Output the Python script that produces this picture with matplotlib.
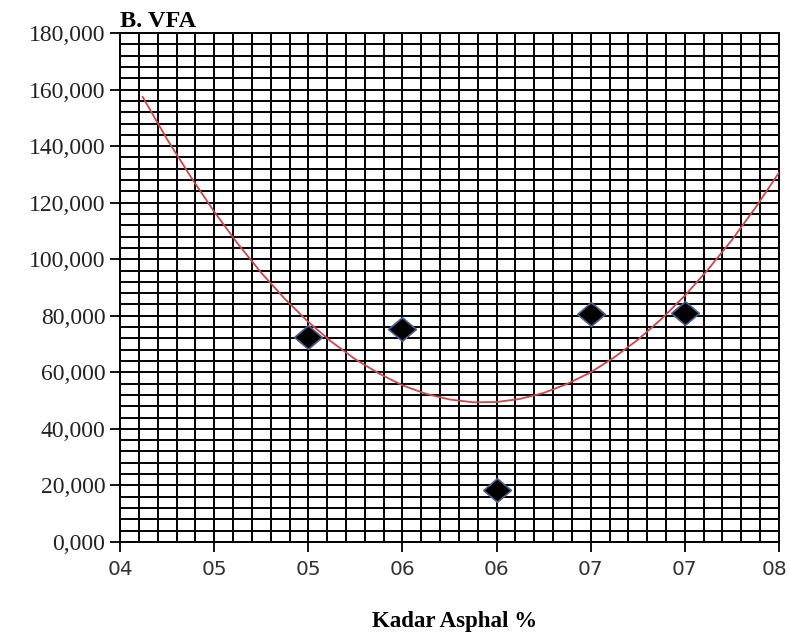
import matplotlib
matplotlib.use("Agg")
import matplotlib.pyplot as plt
from matplotlib.ticker import MultipleLocator, FuncFormatter
import matplotlib.transforms as mtransforms
import numpy as np

# Data
x_points = [5.0, 5.5, 6.0, 6.5, 7.0]
vfa_points = [72.5, 75.3, 18.4, 80.6, 81.0]

# Trendline
trend_x = [4.12, 4.25, 4.375, 4.5, 4.625, 4.75, 4.875, 5.0, 5.125, 5.25, 5.375, 5.5,
           5.625, 5.75, 5.875, 6.0, 6.125, 6.25, 6.375, 6.5, 6.625, 6.75, 6.875,
           7.0, 7.125, 7.25, 7.375, 7.5]
trend_y = [157.4, 142.4, 129.2, 116.8, 105.5, 95.2, 86.0, 77.8, 70.7, 64.6, 59.6, 55.4,
           52.4, 50.4, 49.4, 49.5, 50.6, 52.7, 55.9, 60.0, 65.3, 71.5, 78.8,
           87.1, 96.5, 106.8, 118.2, 130.6]

x_tick_labels = ["04", "05", "05", "06", "06", "07", "07", "08"]
title = "B. VFA"
xlabel = "Kadar Asphal %"

fig = plt.figure(figsize=(7.9, 6.35), dpi=100)
ax = fig.add_axes([0.152, 0.1465, 0.834, 0.8015])

ax.set_xlim(4.0, 7.5)
ax.set_ylim(0, 180)

ax.xaxis.set_major_locator(MultipleLocator(0.5))
ax.xaxis.set_minor_locator(MultipleLocator(0.1))
ax.yaxis.set_major_locator(MultipleLocator(20))
ax.yaxis.set_minor_locator(MultipleLocator(4))

ax.grid(which="both", color="black", linewidth=1.4)
ax.set_axisbelow(True)

ticks = np.arange(4.0, 7.51, 0.5)
ax.set_xticks(ticks)
ax.set_xticklabels(x_tick_labels, fontsize=14.5, family="DejaVu Sans", color="#333333")
ax.yaxis.set_major_formatter(FuncFormatter(lambda v, p: f"{v:.3f}".replace(".", ",")))
ax.tick_params(axis="y", labelsize=17, labelfontfamily="Liberation Serif", colors="#222222")
ax.tick_params(which="major", direction="out", length=7, width=1.3, color="black")
ax.tick_params(axis="x", pad=6)
ax.tick_params(which="minor", length=0)

# nudge last x label inward so it stays inside the figure
last = ax.get_xticklabels()[-1]
last.set_transform(last.get_transform() +
                   mtransforms.ScaledTranslation(-4 / 100, 0, fig.dpi_scale_trans))

for s in ax.spines.values():
    s.set_color("black")
    s.set_linewidth(1.4)

ax.plot(trend_x, trend_y, color="#d04545", linewidth=1.3, zorder=3)

diamond = [(-1, 0), (0, -0.85), (1, 0), (0, 0.85), (-1, 0)]
ax.plot(x_points, vfa_points, linestyle="none", marker=diamond, markersize=20,
        markerfacecolor="black", markeredgecolor="#4a6190", markeredgewidth=1.2, zorder=4)

fig.text(0.152, 0.958, title, fontsize=17.5, fontweight="bold", family="Liberation Serif",
         ha="left", va="baseline")
fig.text(0.576, 0.012, xlabel, fontsize=16.5, fontweight="bold", family="Liberation Serif",
         ha="center", va="baseline")

fig.savefig("out.png", dpi=100)
